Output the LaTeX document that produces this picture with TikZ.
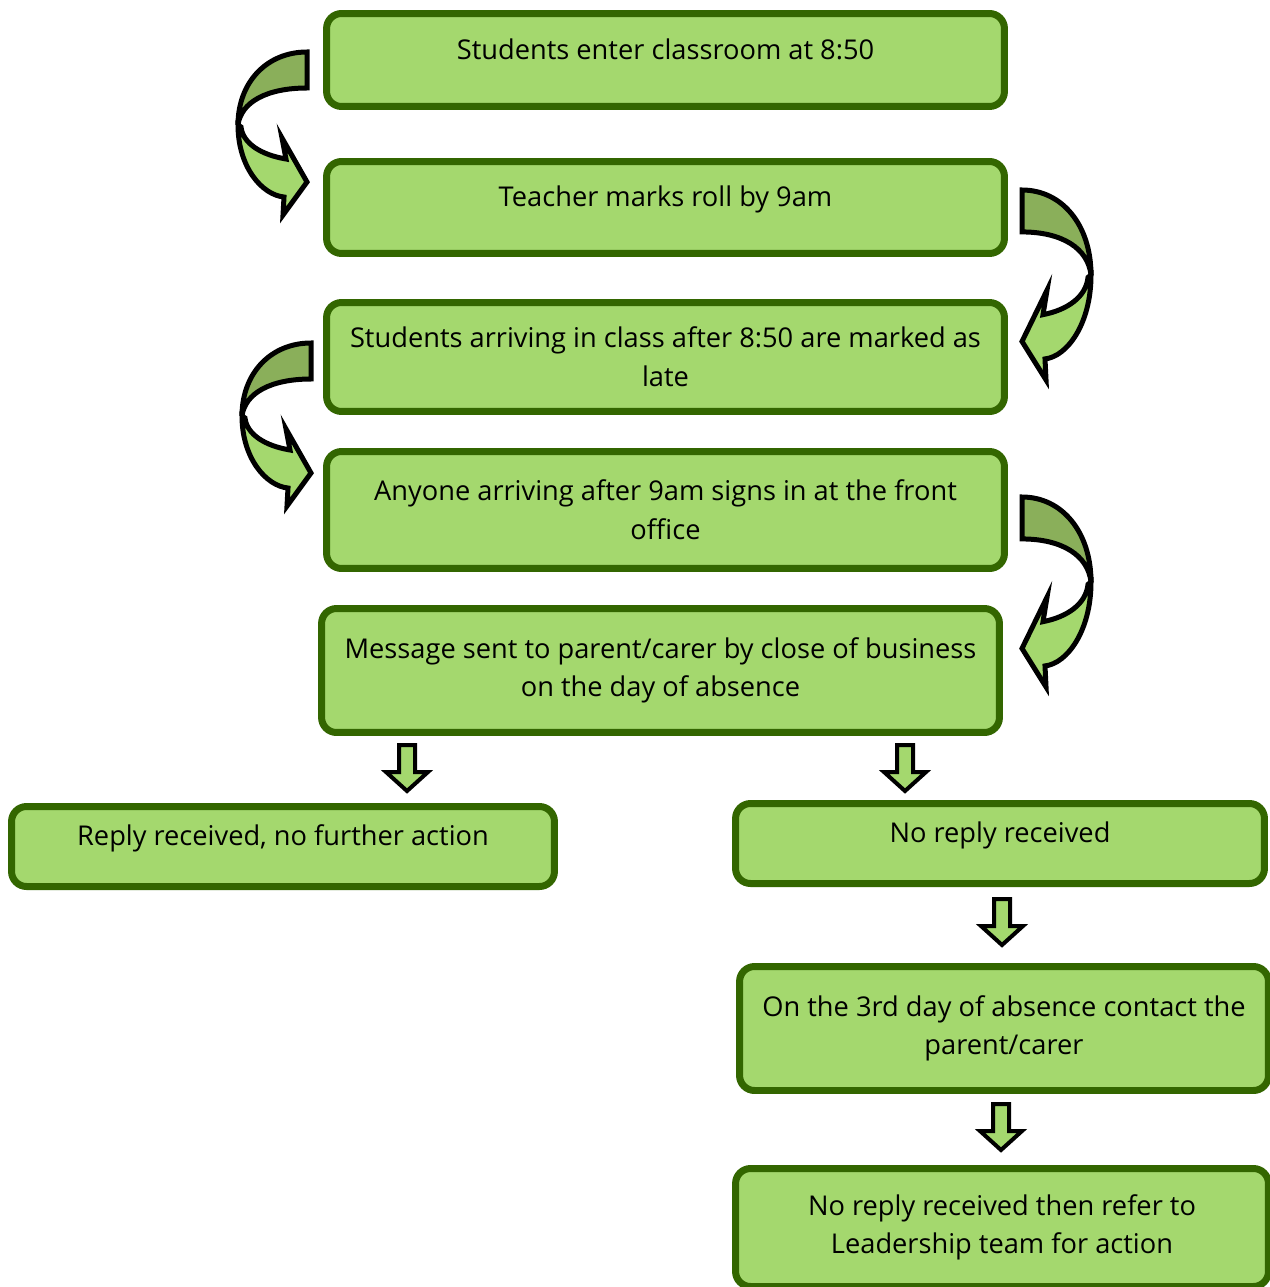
\documentclass[tikz,border=0pt]{standalone}
\usepackage{fontspec}
\setmainfont{Open Sans}
\usepackage{xcolor}
\usepackage{tikz}
\usetikzlibrary{positioning}
\definecolor{gFill}{HTML}{A4D86E}
\definecolor{gLine}{HTML}{336600}
\definecolor{gDark}{HTML}{8AAF5A}
\tikzset{
  stage/.style={draw=gLine, line width=0.14cm, fill=gFill, rounded corners=0.3cm, align=center,
    font=\fontsize{15.5}{22}\selectfont, inner sep=0pt},
  oneline/.style={text depth=0.44cm},
  downarrow/.pic={
    \draw[line width=0.08cm, fill=gFill] (-8,0) -- (8,0) -- (8,27) -- (21,27) -- (0,46) -- (-21,27) -- (-8,27) -- cycle;
  },
  bendarrow/.pic={
    \draw[line width=0.1cm, fill=gFill] (-69,73) .. controls (-69,115) and (-45,143) .. (-23,145) -- (-24,163) -- (0,130)
      -- (-25,86) -- (-21,107) .. controls (-45,103) and (-64,92) .. (-66,75) -- cycle;
    \draw[line width=0.1cm, fill=gDark] (0,0) -- (0,36) .. controls (-40,36) and (-66,50) .. (-69,73)
      .. controls (-69,30) and (-40,0) .. (0,0) -- cycle;
  }
}
\begin{document}
\begin{tikzpicture}[x=0.02cm, y=-0.02cm]
  \useasboundingbox (0,0) rectangle (1270,1287);
  % main column
  \node[stage, oneline, minimum width=13.56cm, minimum height=1.86cm] (enter) at (665.5,60) {Students enter classroom at 8:50};
  \node[stage, oneline, minimum width=13.56cm, minimum height=1.84cm] (roll) at (665.5,207.5) {Teacher marks roll by 9am};
  \node[stage, minimum width=13.56cm, minimum height=2.18cm] (late) at (665.5,357)
    {Students arriving in class after 8:50 are marked as\\late};
  \node[stage, minimum width=13.56cm, minimum height=2.34cm] (office) at (665.5,510)
    {Anyone arriving after 9am signs in at the front\\office};
  \node[stage, minimum width=13.56cm, minimum height=2.48cm] (msg) at (660.5,670.5)
    {Message sent to parent/carer by close of business\\on the day of absence};
  % outcomes
  \node[stage, oneline, minimum width=10.86cm, minimum height=1.6cm] (reply) at (283,846.5) {Reply received, no further action};
  \node[stage, oneline, minimum width=10.58cm, minimum height=1.6cm] (noreply) at (1000,843.5) {No reply received};
  \node[stage, minimum width=10.58cm, minimum height=2.48cm] (day3) at (1004,1028.5)
    {On the 3rd day of absence contact the\\parent/carer};
  \node[stage, minimum width=10.66cm, minimum height=2.36cm] (lead) at (1002,1227.5)
    {No reply received then refer to\\Leadership team for action};
  % curved arrows
  \pic at (307,52) {bendarrow};
  \pic at (311,343) {bendarrow};
  \path (1022,190) pic[xscale=-1, yscale=1.165] {bendarrow};
  \path (1022,497) pic[xscale=-1, yscale=1.165] {bendarrow};
  % down arrows
  \pic at (407,745) {downarrow};
  \pic at (905,745) {downarrow};
  \pic at (1002,899) {downarrow};
  \pic at (1001,1104) {downarrow};
\end{tikzpicture}
\end{document}
